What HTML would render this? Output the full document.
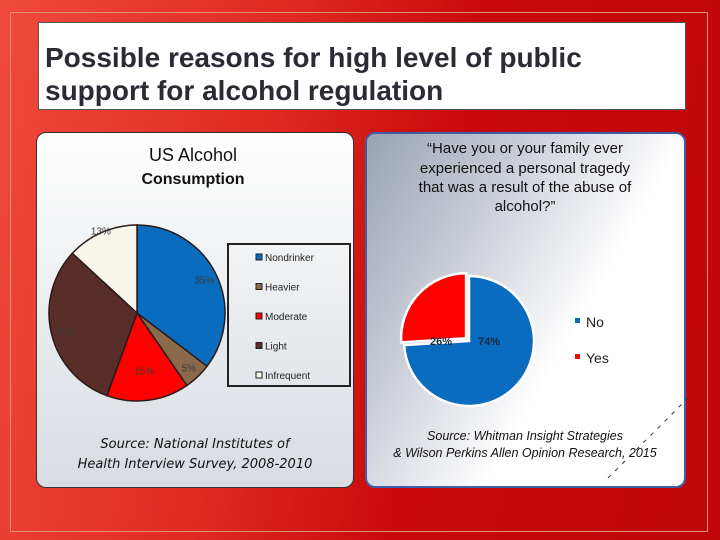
<!DOCTYPE html>
<html><head><meta charset="utf-8">
<style>
body{margin:0;width:720px;height:540px;overflow:hidden;font-family:"Liberation Sans",sans-serif}
#bg{position:absolute;left:0;top:0;width:720px;height:540px;background:linear-gradient(100deg,#f04a3c 0%,#e02a22 35%,#c80a0a 60%,#c00808 100%)}
#frame{position:absolute;left:10px;top:12px;width:698px;height:520px;border:1px solid #e49070;box-sizing:border-box}
#title{position:absolute;left:38px;top:22px;width:648px;height:88px;background:#fff;border:1px solid #555;box-sizing:border-box}
#title div{position:absolute;left:6px;top:18px;font-weight:bold;font-size:28px;line-height:33px;color:#2b2b33;white-space:nowrap}
#lp{position:absolute;left:36px;top:132px;width:318px;height:356px;border-radius:10px;background:linear-gradient(180deg,#fff 0%,#eef0f2 40%,#d8dce2 100%);border:1px solid #333;box-sizing:border-box}
#rp{position:absolute;left:365px;top:132px;width:321px;height:356px;border-radius:10px;background:linear-gradient(120deg,#9aa2b2 0%,#c8ccd6 30%,#fff 62%,#fff 100%);border:2px solid #3b5fa8;box-sizing:border-box}
svg{position:absolute;left:0;top:0}
</style></head><body>
<div id="bg"></div>
<div id="frame"></div>
<div id="title"><div>Possible reasons for high level of public<br>support for alcohol regulation</div></div>
<div id="lp"></div>
<div id="rp"></div>
<svg id="s" width="720" height="540">
<text x="193" y="161" text-anchor="middle" font-size="18" fill="#111">US Alcohol</text>
<text x="193" y="184" text-anchor="middle" font-size="16" font-weight="bold" fill="#111">Consumption</text>
<g font-size="15" fill="#111" text-anchor="middle">
<text x="525" y="153">“Have you or your family ever</text>
<text x="525" y="173">experienced a personal tragedy</text>
<text x="525" y="192">that was a result of the abuse of</text>
<text x="525" y="211">alcohol?”</text></g>
<rect x="228" y="244" width="122" height="142" fill="none" stroke="#222" stroke-width="2"/>
<g id="lpie"></g><g id="rpie"></g><g id="leg"></g>
<g font-size="13" font-style="italic" fill="#111" text-anchor="middle" font-family="DejaVu Sans,sans-serif">
<text x="195" y="448">Source: National Institutes of</text>
<text x="195" y="468">Health Interview Survey, 2008-2010</text></g>
<g font-size="12.5" font-style="italic" fill="#111" text-anchor="middle">
<text x="525" y="440">Source:  Whitman Insight Strategies</text>
<text x="525" y="457">&amp; Wilson Perkins Allen Opinion Research, 2015</text></g>
<line x1="608" y1="478" x2="688" y2="398" stroke="#333" stroke-dasharray="4,6"/>
</svg>
<script>
const leftCats=["Nondrinker","Heavier","Moderate","Light","Infrequent"];
const leftVals=[35,5,15,31,13];
const leftColors=["#0a6cbf","#8a6a4a","#ff0000","#5a2e28","#f8f6ea"];
const rightCats=["No","Yes"];
const rightVals=[74,26];
const rightColors=["#0a6cbf","#ff0000"];
const NS="http://www.w3.org/2000/svg";
function mk(t,a,p){const e=document.createElementNS(NS,t);for(const k in a)e.setAttribute(k,a[k]);p.appendChild(e);return e;}
function pt(cx,cy,r,f){const a=f*2*Math.PI;return [cx+r*Math.sin(a),cy-r*Math.cos(a)];}
function pie(g,vals,cols,cx,cy,r,stroke,sw,lab,lr,explode){
  const tot=vals.reduce((a,b)=>a+b,0);let c=0;
  vals.forEach((v,i)=>{const f0=c/tot,f1=(c+v)/tot;c+=v;
    const mid=(f0+f1)/2;const off=(explode&&explode[i])?explode[i]:0;
    const [ox,oy]=pt(0,0,off,mid);
    const [x0,y0]=pt(cx+ox,cy+oy,r,f0),[x1,y1]=pt(cx+ox,cy+oy,r,f1);
    const p=mk("path",{d:`M${cx+ox},${cy+oy}L${x0},${y0}A${r},${r} 0 ${f1-f0>0.5?1:0} 1 ${x1},${y1}Z`,fill:cols[i],stroke:stroke,"stroke-width":sw},g);
    
    
    const [tx,ty]=pt(cx,cy,lr[i],mid);
    const t=mk("text",lab(i,tx,ty),g);t.textContent=vals[i]+"%";
    
    
  });
}
const lg=document.getElementById("lpie");
pie(lg,leftVals,leftColors,137,313,88,"#2a1a1a",1.5,(i,x,y)=>({x:x,y:y+4,"font-size":10,fill:"#3a3a3a","text-anchor":"middle"}),[75,75,58,74,90],null);
const rg=document.getElementById("rpie");
pie(rg,rightVals,rightColors,469,341,65,"#fff",2.5,(i,x,y)=>({x:i==0?489:441,y:345,"font-size":11,"font-weight":"bold",fill:"#1a2a40","text-anchor":"middle"}),[20,20],[0,4]);
const leg=document.getElementById("leg");
leftCats.forEach((c,i)=>{const y=259+i*29.5;
  const r=mk("rect",{x:256,y:y-5,width:6,height:6,fill:leftColors[i],stroke:"#222","stroke-width":1},leg);
  
  
  const t=mk("text",{x:265,y:y+2,"font-size":10,fill:"#222"},leg);t.textContent=c;
  
  
});
rightCats.forEach((c,i)=>{const y=322+i*36;
  const r=mk("rect",{x:575,y:y-4,width:5,height:5,fill:rightColors[i]},leg);
  
  
  const t=mk("text",{x:586,y:y+5,"font-size":14,fill:"#222"},leg);t.textContent=c;
  
  
});
</script>
</body></html>
